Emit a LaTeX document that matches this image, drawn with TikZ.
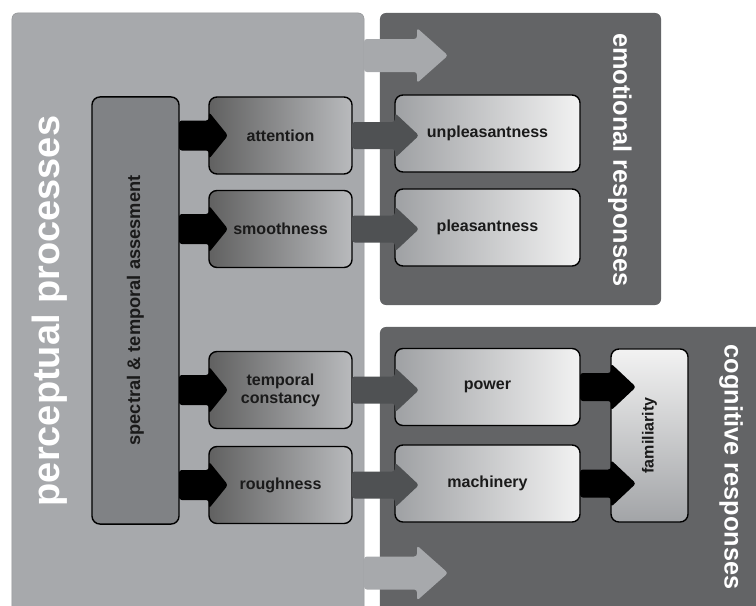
\documentclass[tikz,border=0pt]{standalone}
\usepackage{fontspec}
\setmainfont{Liberation Sans}
\usepackage{tikz}
\usetikzlibrary{calc}

\definecolor{panellight}{HTML}{A7A9AC}
\definecolor{paneldark}{HTML}{636466}
\definecolor{boxgrey}{HTML}{808285}
\definecolor{arrowgrey}{HTML}{4F5153}
\definecolor{inkblack}{HTML}{1A1A1A}

\tikzset{
    panel/.style={rounded corners=0.15cm, inner sep=0pt, outer sep=0pt},
    box/.style={draw=black, line width=1pt, rounded corners=0.2cm, inner sep=0pt, outer sep=0pt},
    percbox/.style={box, minimum width=3.575cm, minimum height=1.925cm,
        left color=black!62!white!100, right color=panellight!80!white,
        text=inkblack, align=center, font=\fontsize{11.4}{13}\selectfont\bfseries},
    respbox/.style={box, minimum width=4.625cm, minimum height=1.925cm,
        left color=panellight!95!black, right color=white!95!black,
        text=inkblack, align=center, font=\fontsize{11.4}{13}\selectfont\bfseries},
    paneltitle/.style={text=white, font=\fontsize{18}{20}\selectfont\bfseries},
    boxtext/.style={text=inkblack, font=\fontsize{11.4}{13}\selectfont\bfseries},
}

% block arrow: colour, tail, start of head, shaft half width, head half width, head length
\newcommand{\blockarrow}[6]{%
    \fill [#1, rounded corners=2pt] ($(#2)+(0,-#4)$) -- ($(#3)+(0,-#4)$) -- ($(#3)+(0,-#5)$)
        -- ($(#3)+(#6,0)$) -- ($(#3)+(0,#5)$) -- ($(#3)+(0,#4)$) -- ($(#2)+(0,#4)$) -- cycle;}

\begin{document}
\begin{tikzpicture}[x=0.025cm, y=-0.025cm]
    \clip (0, 0) rectangle (756, 605);

    % panels
    \node [panel, fill=panellight, draw=panellight!88!black, line width=0.4pt,
        minimum width=8.8cm, minimum height=15.05cm] (perc) at (188, 314) {};
    \node [panel, fill=paneldark, minimum width=7.025cm, minimum height=7.3cm] (emo) at (520.5, 159) {};
    \node [panel, fill=paneldark, minimum width=9.9cm, minimum height=7.45cm] (cog) at (578, 476) {};

    \node [paneltitle, rotate=90, font=\fontsize{27}{30}\selectfont\bfseries] (perctitle) at (50, 311) {perceptual processes};
    \node [paneltitle, rotate=-90] (emotitle) at (620, 160) {emotional responses};
    \node [paneltitle, rotate=-90] (cogtitle) at (731, 467) {cognitive responses};

    % light arrows leaving the perceptual panel
    \coordinate (emohead) at (417, 55.5);
    \coordinate (coghead) at (417, 573);
    \blockarrow{panellight}{perc.east |- emohead}{emohead}{16.5}{27.5}{31}
    \blockarrow{panellight}{perc.east |- coghead}{coghead}{16.5}{27.5}{31}

    % boxes
    \node [box, fill=boxgrey, minimum width=2.175cm, minimum height=10.675cm] (spec) at (135.5, 310.5) {};
    \node [boxtext, rotate=90, font=\fontsize{13}{15}\selectfont\bfseries] (spectext) at (spec) {spectral \& temporal assesment};

    \node [percbox] (att) at (280.5, 135.5) {attention};
    \node [percbox] (smo) at (280.5, 229) {smoothness};
    \node [percbox] (tem) at (280.5, 390) {temporal\\constancy};
    \node [percbox] (rou) at (280.5, 485) {roughness};

    \node [respbox] (unp) at (487.5, 133.5) {unpleasantness};
    \node [respbox] (ple) at (487.5, 227.5) {pleasantness};
    \node [respbox] (pow) at (487.5, 387) {power};
    \node [respbox] (mac) at (487.5, 483.5) {machinery};

    \node [box, top color=white!95!black, bottom color=panellight!97!black,
        minimum width=1.925cm, minimum height=4.325cm] (fam) at (649.5, 435.5) {};
    \node [boxtext, rotate=90] (famtext) at (fam) {familiarity};

    % arrows
    \foreach \b in {att, smo, tem, rou}
        \blockarrow{black}{spec.east |- \b.west}{\b.west}{15}{23.5}{19};
    \blockarrow{arrowgrey}{att.east}{unp.west |- att.east}{13.5}{22.5}{24}
    \blockarrow{arrowgrey}{smo.east}{ple.west |- smo.east}{13.5}{22.5}{24}
    \blockarrow{arrowgrey}{tem.east}{pow.west |- tem.east}{13.5}{22.5}{24}
    \blockarrow{arrowgrey}{rou.east}{mac.west |- rou.east}{13.5}{22.5}{24}
    \blockarrow{black}{pow.east}{fam.west |- pow.east}{14}{23.5}{25}
    \blockarrow{black}{mac.east}{fam.west |- mac.east}{14}{23.5}{25}

\end{tikzpicture}
\end{document}
